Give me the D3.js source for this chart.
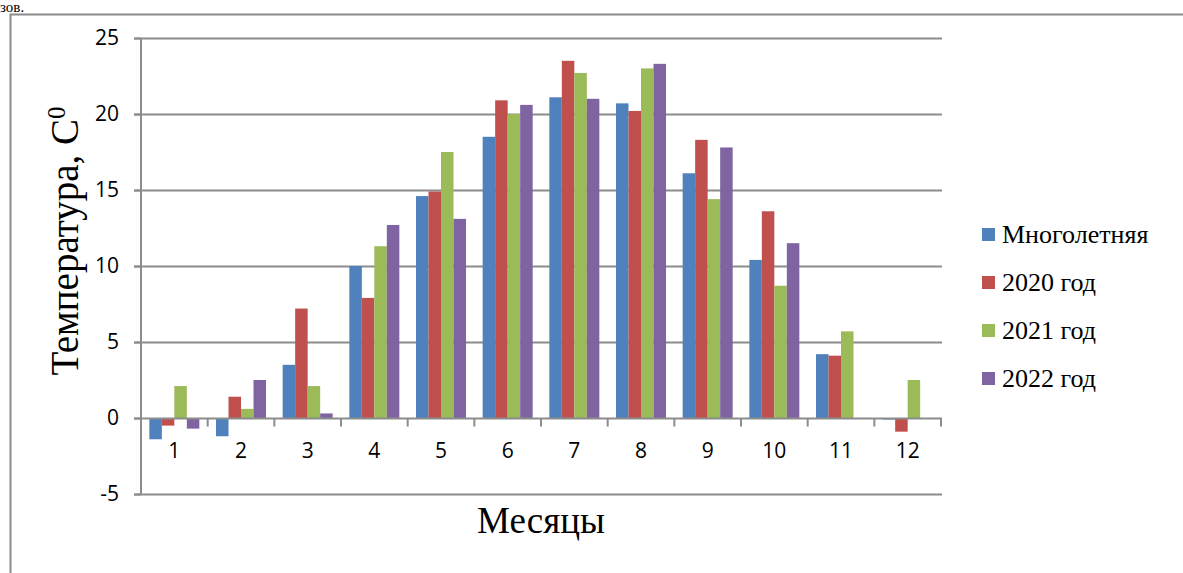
<!DOCTYPE html>
<html>
<head>
<meta charset="utf-8">
<script src="https://cdn.jsdelivr.net/npm/d3@7/dist/d3.min.js"></script>
<style>
  html, body { margin: 0; padding: 0; background: #fff; }
  svg { display: block; }
</style>
</head>
<body>
<svg id="chart" width="1183" height="573"></svg>
<script>
// Monthly mean air temperature, °C
const months = ["1","2","3","4","5","6","7","8","9","10","11","12"];
const seriesNames = ["Многолетняя", "2020 год", "2021 год", "2022 год"];
const longTerm = [-1.4, -1.2, 3.5, 10.0, 14.6, 18.5, 21.1, 20.7, 16.1, 10.4, 4.2, -0.1];
const y2020    = [-0.5, 1.4, 7.2, 7.9, 14.9, 20.9, 23.5, 20.2, 18.3, 13.6, 4.1, -0.9];
const y2021    = [2.1, 0.6, 2.1, 11.3, 17.5, 20.0, 22.7, 23.0, 14.4, 8.7, 5.7, 2.5];
const y2022    = [-0.7, 2.5, 0.3, 12.7, 13.1, 20.6, 21.0, 23.3, 17.8, 11.5, null, null];
const yTicks   = [-5, 0, 5, 10, 15, 20, 25];
const colors   = ["#4F81BD", "#C0504D", "#9BBB59", "#8064A2"];

const seriesValues = [longTerm, y2020, y2021, y2022];

const svg = d3.select("#chart");

// outer frame of the chart area
svg.append("path")
  .attr("d", "M1183,14.5 H10.5 V573")
  .attr("fill", "none")
  .attr("stroke", "#8c8c8c")
  .attr("stroke-width", 2);

// fragment of the preceding paragraph line
svg.append("text")
  .attr("x", 0).attr("y", 12)
  .attr("font-family", "Liberation Serif, serif")
  .attr("font-size", 15)
  .attr("fill", "#000")
  .text("зов.");

const plot = { left: 141, right: 941, top: 38, bottom: 494 };

const y = d3.scaleLinear().domain([-5, 25]).range([plot.bottom, plot.top]);
const x0 = d3.scaleBand().domain(months).range([plot.left, plot.right]).padding(0);
const groupPad = x0.bandwidth() * 0.125;
const x1 = d3.scaleBand().domain(d3.range(seriesNames.length))
  .range([groupPad, x0.bandwidth() - groupPad]).padding(0);

// horizontal gridlines with tick stubs on the left
const grid = svg.append("g");
grid.selectAll("line")
  .data(yTicks.filter(d => d !== 0))
  .join("line")
  .attr("x1", plot.left - 7).attr("x2", plot.right + 1)
  .attr("y1", d => Math.round(y(d)) + 0.5).attr("y2", d => Math.round(y(d)) + 0.5)
  .attr("stroke", "#8c8c8c").attr("stroke-width", 2);

// y axis
const yAxis = d3.axisLeft(y).tickValues(yTicks).tickSize(7).tickPadding(15)
  .tickFormat(d => String(d));
const yg = svg.append("g").attr("transform", `translate(${plot.left},0)`).call(yAxis);
yg.select(".domain").attr("stroke", "#8c8c8c").attr("stroke-width", 2)
  .attr("d", `M0,${plot.bottom}V${plot.top}`);
yg.selectAll(".tick line").attr("stroke", "#8c8c8c").attr("stroke-width", 2);
yg.selectAll(".tick text")
  .attr("font-family", "Open Sans, Liberation Sans, sans-serif")
  .attr("font-size", 21).attr("fill", "#000");

// bars
const groups = svg.append("g").selectAll("g")
  .data(months)
  .join("g")
  .attr("transform", d => `translate(${x0(d)},0)`);

groups.selectAll("rect")
  .data((m, i) => seriesValues.map((s, k) => ({ k, v: s[i] })).filter(d => d.v !== null))
  .join("rect")
  .attr("x", d => x1(d.k))
  .attr("width", x1.bandwidth())
  .attr("y", d => y(Math.max(0, d.v)))
  .attr("height", d => Math.abs(y(d.v) - y(0)))
  .attr("fill", d => colors[d.k]);

// category axis at zero with ticks between months
const xAxis = d3.axisBottom(x0).tickSize(0).tickPadding(25);
const xg = svg.append("g").attr("transform", `translate(0,${Math.round(y(0)) + 0.5})`).call(xAxis);
xg.select(".domain").attr("stroke", "#8c8c8c").attr("stroke-width", 2)
  .attr("d", `M${plot.left - 7},0H${plot.right + 1}`);
xg.selectAll(".tick text")
  .attr("font-family", "Open Sans, Liberation Sans, sans-serif")
  .attr("font-size", 21).attr("fill", "#000");
xg.selectAll(".sep")
  .data(d3.range(months.length + 1))
  .join("line")
  .attr("class", "sep")
  .attr("x1", i => plot.left + i * x0.bandwidth())
  .attr("x2", i => plot.left + i * x0.bandwidth())
  .attr("y1", 0).attr("y2", 8)
  .attr("stroke", "#8c8c8c").attr("stroke-width", 2);

// axis titles
svg.append("text")
  .attr("transform", "translate(78,241) rotate(-90)")
  .attr("text-anchor", "middle")
  .attr("font-family", "Liberation Serif, serif")
  .attr("font-size", 39).attr("fill", "#000")
  .html('Температура, С<tspan baseline-shift="super" font-size="25">0</tspan>');

svg.append("text")
  .attr("x", 541).attr("y", 533)
  .attr("text-anchor", "middle")
  .attr("font-family", "Liberation Serif, serif")
  .attr("font-size", 37).attr("fill", "#000")
  .text("Месяцы");

// legend
const legend = svg.append("g").attr("transform", "translate(982,243)");
const rows = legend.selectAll("g").data(seriesNames).join("g")
  .attr("transform", (d, i) => `translate(0,${i * 48})`);
rows.append("rect")
  .attr("x", 0).attr("y", -15).attr("width", 13).attr("height", 13)
  .attr("fill", (d, i) => colors[i]);
rows.append("text")
  .attr("x", 20).attr("y", 0)
  .attr("font-family", "Liberation Serif, serif")
  .attr("font-size", 26).attr("fill", "#000")
  .text(d => d);
</script>
</body>
</html>
